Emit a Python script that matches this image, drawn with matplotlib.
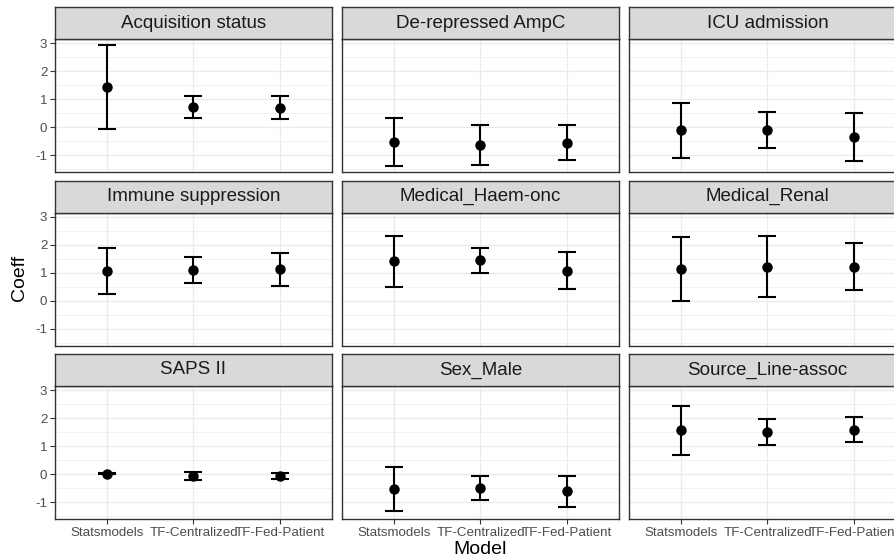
import matplotlib
matplotlib.use("Agg")
import matplotlib.pyplot as plt
from matplotlib.ticker import MultipleLocator

plt.rcParams["font.family"] = ["Liberation Sans", "DejaVu Sans"]

models = ["Statsmodels", "TF-Centralized", "TF-Fed-Patient"]
facets = ["Acquisition status", "De-repressed AmpC", "ICU admission",
          "Immune suppression", "Medical_Haem-onc", "Medical_Renal",
          "SAPS II", "Sex_Male", "Source_Line-assoc"]

coef = [
    [1.44, 0.73, 0.70],
    [-0.53, -0.62, -0.55],
    [-0.09, -0.08, -0.35],
    [1.08, 1.11, 1.13],
    [1.42, 1.45, 1.08],
    [1.13, 1.21, 1.20],
    [0.02, -0.06, -0.06],
    [-0.53, -0.48, -0.61],
    [1.57, 1.51, 1.59],
]
lower = [
    [-0.05, 0.35, 0.28],
    [-1.38, -1.34, -1.17],
    [-1.10, -0.74, -1.21],
    [0.26, 0.64, 0.54],
    [0.51, 1.00, 0.44],
    [-0.02, 0.12, 0.37],
    [0.00, -0.19, -0.15],
    [-1.32, -0.92, -1.18],
    [0.69, 1.06, 1.14],
]
upper = [
    [2.94, 1.12, 1.12],
    [0.34, 0.09, 0.08],
    [0.88, 0.54, 0.51],
    [1.89, 1.57, 1.71],
    [2.32, 1.90, 1.74],
    [2.27, 2.30, 2.05],
    [0.05, 0.08, 0.05],
    [0.25, -0.05, -0.05],
    [2.45, 1.96, 2.05],
]

W, H = 895, 560
fig = plt.figure(figsize=(W / 100, H / 100), dpi=100)

col_left = [55, 342, 629]
panel_w = 277
row_top = [7, 180.5, 354]
strip_h = 32
panel_h = 133

def frac(x, y_top, w, h):
    return [x / W, 1 - (y_top + h) / H, w / W, h / H]

lo_all = min(min(r) for r in lower)
hi_all = max(max(r) for r in upper)
pad = 0.05 * (hi_all - lo_all)
xs = list(range(1, len(models) + 1))

for i, name in enumerate(facets):
    r, c = divmod(i, 3)
    ax = fig.add_axes(frac(col_left[c], row_top[r] + strip_h, panel_w, panel_h))
    yerr = [[coef[i][k] - lower[i][k] for k in range(3)],
            [upper[i][k] - coef[i][k] for k in range(3)]]
    ax.errorbar(xs, coef[i], yerr=yerr, fmt="o", color="black", ms=6.5,
                elinewidth=1.5, capsize=6.2, capthick=1.5, zorder=3)
    ax.set_xlim(0.4, 3.6)
    ax.set_ylim(lo_all - pad, hi_all + pad)
    ax.yaxis.set_major_locator(MultipleLocator(1))
    ax.yaxis.set_minor_locator(MultipleLocator(0.5))
    ax.set_xticks(xs)
    ax.grid(True, which="major", color="#EBEBEB", lw=1.0)
    ax.grid(True, which="minor", axis="y", color="#EBEBEB", lw=0.5)
    ax.set_axisbelow(True)
    for s in ax.spines.values():
        s.set_color("#333333")
        s.set_linewidth(1.0)
    ax.tick_params(which="major", color="#333333", length=3.5, width=0.8,
                   labelcolor="#4D4D4D", labelsize=9.6, pad=2)
    ax.tick_params(which="minor", length=0)
    if c == 0:
        ax.set_yticklabels([f"{int(t)}" for t in ax.get_yticks()])
    else:
        ax.tick_params(axis="y", which="major", length=0, labelleft=False)
    if r == 2:
        ax.set_xticklabels(models)
    else:
        ax.tick_params(axis="x", length=0, labelbottom=False)

    sax = fig.add_axes(frac(col_left[c], row_top[r], panel_w, strip_h))
    sax.set_facecolor("#D9D9D9")
    sax.set_xticks([])
    sax.set_yticks([])
    for s in sax.spines.values():
        s.set_color("#333333")
        s.set_linewidth(1.0)
    sax.text(0.5, 0.5, name, ha="center", va="center", fontsize=13.5,
             color="#1A1A1A", transform=sax.transAxes)

fig.text(20 / W, 1 - 278 / H, "Coeff", rotation=90, ha="center", va="center",
         fontsize=14)
fig.text(480 / W, 1 - 549 / H, "Model", ha="center", va="center", fontsize=14)

fig.savefig("out.png", dpi=100)
